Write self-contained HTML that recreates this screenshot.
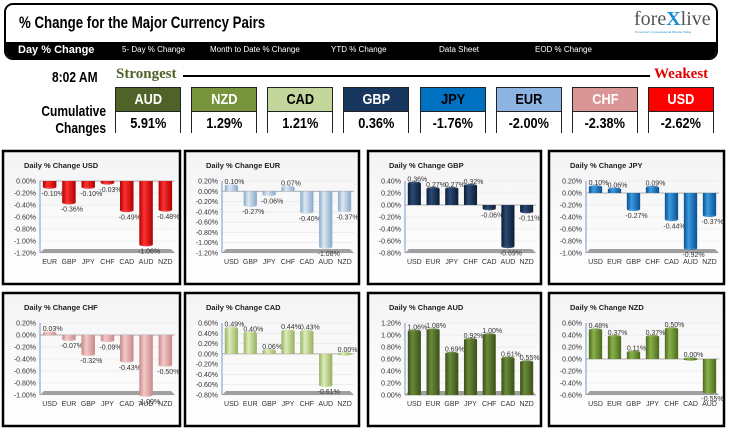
<!DOCTYPE html>
<html><head><meta charset="utf-8"><style>
body{margin:0;width:731px;height:430px;background:#fff;overflow:hidden;position:relative;font-family:"Liberation Sans",sans-serif}
.abs{position:absolute}
.cond{font-weight:bold;transform-origin:left center;white-space:nowrap}
.box{position:absolute;width:66px;height:46px;border:1px solid #222;box-sizing:border-box}
.box .h{height:23px;line-height:23px;text-align:center;font-weight:bold;font-size:15px;border-bottom:1px solid #222}
.box .v{height:22px;line-height:23px;text-align:center;font-weight:bold;font-size:15px;background:#fff;color:#000}
.box span{display:inline-block;transform:scaleX(0.85)}
.tab{position:absolute;top:45px;color:#fff;font-size:8px;white-space:nowrap}
</style></head><body>
<div class="abs" style="left:4px;top:3px;width:714px;height:57px;border:2px solid #000;border-radius:9px;box-sizing:border-box;overflow:hidden;background:#fff">
 <div class="abs" style="left:0;top:37px;width:100%;height:20px;background:#000"></div>
</div>
<div class="abs cond" style="left:19px;top:13px;font-size:17px;transform:scaleX(0.78)">% Change for the Major Currency Pairs</div>
<div class="abs" style="left:634px;top:8px;font-family:'Liberation Serif',serif;font-size:20px;color:#555">fore<span style="color:#1a8fd6;font-weight:bold">X</span>live</div>
<div class="abs" style="left:635px;top:30px;font-size:3px;color:#1a8fd6">Tomorrow's Conversational Window Today</div>
<div class="tab" style="left:18px;top:44px;font-size:11px;font-weight:bold">Day % Change</div>
<div class="tab" style="left:122px">5- Day % Change</div>
<div class="tab" style="left:210px">Month to Date % Change</div>
<div class="tab" style="left:331px">YTD % Change</div>
<div class="tab" style="left:439px">Data Sheet</div>
<div class="tab" style="left:535px">EOD % Change</div>

<div class="abs cond" style="left:52px;top:69px;font-size:15px;transform:scaleX(0.8)">8:02 AM</div>
<div class="abs" style="left:116px;top:66px;font-family:'Liberation Serif',serif;font-weight:bold;font-size:15px;color:#4f6228">Strongest</div>
<div class="abs" style="left:183px;top:75px;width:467px;height:2px;background:#000"></div>
<div class="abs" style="left:654px;top:66px;font-family:'Liberation Serif',serif;font-weight:bold;font-size:15px;color:#e00000">Weakest</div>
<div class="abs cond" style="left:38px;top:103px;font-size:15px;line-height:17px;text-align:right;transform:scaleX(0.8)">&nbsp;Cumulative<br>&nbsp;&nbsp;&nbsp;&nbsp;Changes</div>

<div class="box" style="left:115px;top:87px"><div class="h" style="background:#4f6228;color:#fff"><span>AUD</span></div><div class="v"><span>5.91%</span></div></div>
<div class="box" style="left:191px;top:87px"><div class="h" style="background:#77933c;color:#fff"><span>NZD</span></div><div class="v"><span>1.29%</span></div></div>
<div class="box" style="left:267px;top:87px"><div class="h" style="background:#c3d69b;color:#000"><span>CAD</span></div><div class="v"><span>1.21%</span></div></div>
<div class="box" style="left:343px;top:87px"><div class="h" style="background:#17375e;color:#fff"><span>GBP</span></div><div class="v"><span>0.36%</span></div></div>
<div class="box" style="left:420px;top:87px"><div class="h" style="background:#0070c0;color:#000"><span>JPY</span></div><div class="v"><span>-1.76%</span></div></div>
<div class="box" style="left:496px;top:87px"><div class="h" style="background:#8db3e2;color:#000"><span>EUR</span></div><div class="v"><span>-2.00%</span></div></div>
<div class="box" style="left:572px;top:87px"><div class="h" style="background:#da9694;color:#fff"><span>CHF</span></div><div class="v"><span>-2.38%</span></div></div>
<div class="box" style="left:648px;top:87px"><div class="h" style="background:#ff0000;color:#fff"><span>USD</span></div><div class="v"><span>-2.62%</span></div></div>

<svg id="charts" class="abs" style="left:0;top:0" width="731" height="430" xmlns="http://www.w3.org/2000/svg"></svg>
<script>
const usdCats=["EUR","GBP","JPY","CHF","CAD","AUD","NZD"];
const usdVals=[-0.10,-0.36,-0.10,-0.03,-0.49,-1.06,-0.48];
const usdTicks=[0,-0.2,-0.4,-0.6,-0.8,-1.0,-1.2];
const eurCats=["USD","GBP","JPY","CHF","CAD","AUD","NZD"];
const eurVals=[0.10,-0.27,-0.06,0.07,-0.40,-1.08,-0.37];
const eurTicks=[0.2,0,-0.2,-0.4,-0.6,-0.8,-1.0,-1.2];
const gbpCats=["USD","EUR","JPY","CHF","CAD","AUD","NZD"];
const gbpVals=[0.36,0.27,0.27,0.32,-0.06,-0.69,-0.11];
const gbpTicks=[0.4,0.2,0,-0.2,-0.4,-0.6,-0.8];
const jpyCats=["USD","EUR","GBP","CHF","CAD","AUD","NZD"];
const jpyVals=[0.10,0.06,-0.27,0.09,-0.44,-0.92,-0.37];
const jpyTicks=[0.2,0,-0.2,-0.4,-0.6,-0.8,-1.0];
const chfCats=["USD","EUR","GBP","JPY","CAD","AUD","NZD"];
const chfVals=[0.03,-0.07,-0.32,-0.09,-0.43,-1.00,-0.50];
const chfTicks=[0.2,0,-0.2,-0.4,-0.6,-0.8,-1.0];
const cadCats=["USD","EUR","GBP","JPY","CHF","AUD","NZD"];
const cadVals=[0.49,0.40,0.06,0.44,0.43,-0.61,0.00];
const cadTicks=[0.6,0.4,0.2,0,-0.2,-0.4,-0.6,-0.8];
const audCats=["USD","EUR","GBP","JPY","CHF","CAD","NZD"];
const audVals=[1.06,1.08,0.69,0.92,1.00,0.61,0.55];
const audTicks=[1.2,1.0,0.8,0.6,0.4,0.2,0];
const nzdCats=["USD","EUR","GBP","JPY","CHF","CAD","AUD"];
const nzdVals=[0.48,0.37,0.11,0.37,0.50,0.00,-0.55];
const nzdTicks=[0.6,0.4,0.2,0,-0.2,-0.4,-0.6];

const NS="http://www.w3.org/2000/svg";
const svg=document.getElementById('charts');
function mk(tag,attrs,parent){const e=document.createElementNS(NS,tag);for(const k in attrs)e.setAttribute(k,attrs[k]);(parent||svg).appendChild(e);return e;}
const defs=mk('defs',{});
function grad(id,c1,c2){const g=mk('linearGradient',{id:id,x1:0,y1:0,x2:1,y2:0},defs);
 mk('stop',{offset:'0',"stop-color":c2},g);mk('stop',{offset:'0.35',"stop-color":c1},g);mk('stop',{offset:'1',"stop-color":c2},g);}
grad('gUSD','#ff3030','#b00000');grad('gEUR','#dce8f4','#8aa8c8');grad('gGBP','#2a4a74','#0c1c34');
grad('gJPY','#3a9ae0','#0a5090');grad('gCHF','#f4c8c8','#c88888');grad('gCAD','#dcecb8','#98b060');
grad('gAUD','#6a8a3a','#3a5018');grad('gNZD','#8ab04a','#4a6a1c');
const pg=mk('linearGradient',{id:'panelBg',x1:0,y1:0,x2:0,y2:1},defs);
mk('stop',{offset:'0',"stop-color":'#f4f4f6'},pg);mk('stop',{offset:'1',"stop-color":'#ffffff'},pg);

function chart(name,x0,y0,w,h,cats,vals,ticks,gid){
 const g=mk('g',{});
 
 
 mk('rect',{x:x0+1,y:y0+1,width:w-2,height:h-2,fill:'url(#panelBg)',stroke:'#000','stroke-width':2.5},g);
 const t=mk('text',{x:x0+22,y:y0+18,'font-size':7.5,'font-weight':'bold',fill:'#222'},g);
 t.textContent='Daily % Change '+name;
 
 
 const L=x0+38,R=x0+w-6,T=y0+31,B=y0+103;
 const vmax=ticks[0],vmin=ticks[ticks.length-1];
 const yv=v=>T+(vmax-v)/(vmax-vmin)*(B-T);
 const step=(R-L)/cats.length;
 const xc=i=>L+step*(i+0.5);
 ticks.forEach(tv=>{
  const y=yv(tv);
  mk('line',{x1:L,x2:R,y1:y,y2:y,stroke:'#e4e4e4','stroke-width':0.6},g);
  const tl=mk('text',{x:L-4,y:y+2.5,'font-size':7,'text-anchor':'end',fill:'#333'},g);
  tl.textContent=tv.toFixed(2)+'%';
  
  
 });
 mk('line',{x1:L,x2:L,y1:T,y2:B,stroke:'#4f81bd','stroke-width':0.8},g);
 mk('polygon',{points:`${L},${B} ${R},${B} ${R-4},${B-4} ${L+4},${B-4}`,fill:'#a0a0a0'},g);
 const y0v=yv(0);
 mk('line',{x1:L,x2:R,y1:y0v,y2:y0v,stroke:'#999','stroke-width':0.8},g);
 const bw=step*0.7;
 vals.forEach((v,i)=>{
  const cx=xc(i),yt=yv(Math.max(v,0)),yb=yv(Math.min(v,0));
  const hh=Math.max(yb-yt,1);
  const b=mk('rect',{x:cx-bw/2,y:yt,width:bw,height:hh,fill:'url(#'+gid+')'},g);
  
  
  mk('ellipse',{cx:cx,cy:v>=0?yt:yb,rx:bw/2,ry:1.8,fill:'url(#'+gid+')',opacity:0.9},g);
  const ly=v>=0?yt-2:yb+9;
  const lab=mk('text',{x:cx+3,y:ly,'font-size':7,'text-anchor':'middle',fill:'#333'},g);
  lab.textContent=v.toFixed(2)+'%';
  
  
  const cl=mk('text',{x:cx,y:B+11,'font-size':7,'text-anchor':'middle',fill:'#333'},g);
  cl.textContent=cats[i];
  
  
 });
}
chart('USD',2,150,179,135,usdCats,usdVals,usdTicks,'gUSD');
chart('EUR',184,150,176,135,eurCats,eurVals,eurTicks,'gEUR');
chart('GBP',367,150,175,135,gbpCats,gbpVals,gbpTicks,'gGBP');
chart('JPY',548,150,177,135,jpyCats,jpyVals,jpyTicks,'gJPY');
chart('CHF',2,292,179,135,chfCats,chfVals,chfTicks,'gCHF');
chart('CAD',184,292,176,135,cadCats,cadVals,cadTicks,'gCAD');
chart('AUD',367,292,175,135,audCats,audVals,audTicks,'gAUD');
chart('NZD',548,292,177,135,nzdCats,nzdVals,nzdTicks,'gNZD');
</script>
</body></html>
